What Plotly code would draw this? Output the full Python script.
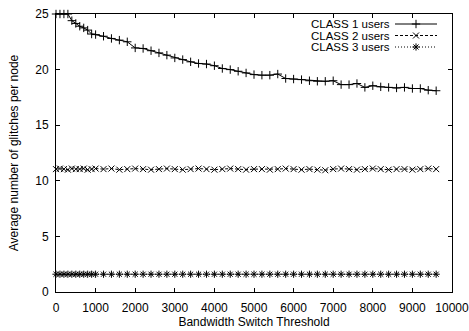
import plotly.graph_objects as go

# Bandwidth switch thresholds (fine steps up to 1000, then every 200)
thresholds = list(range(0, 1001, 100)) + list(range(1200, 9601, 200))

class1 = [25.0, 25.0, 25.0, 25.0, 24.4, 24.15, 23.9, 23.75, 23.55, 23.2, 23.15,
          23.0, 22.8, 22.65, 22.5, 21.95, 21.9, 21.7, 21.5, 21.3, 21.05,
          20.9, 20.7, 20.55, 20.5, 20.35, 20.1, 20.0, 19.85, 19.7, 19.55,
          19.5, 19.5, 19.6, 19.2, 19.15, 19.1, 19.0, 18.95, 18.95, 19.0,
          18.65, 18.65, 18.75, 18.4, 18.55, 18.45, 18.4, 18.35, 18.4, 18.3,
          18.3, 18.15, 18.1]

class2 = [11.05, 11.1, 11.05, 11.0, 11.1, 11.05, 11.05, 11.1, 11.0, 11.05, 11.1,
          11.05, 11.1, 11.0, 11.05, 11.1, 11.05, 11.0, 11.05, 11.1, 11.05,
          11.0, 11.05, 11.1, 11.05, 11.0, 11.05, 11.1, 11.05, 11.0, 11.05,
          11.05, 11.0, 11.05, 11.1, 11.05, 11.0, 11.05, 11.0, 10.95, 11.05,
          11.1, 11.05, 11.0, 11.05, 11.1, 11.05, 11.0, 11.05, 11.05, 11.0,
          11.05, 11.1, 11.05]

class3 = [1.6] * len(thresholds)

series_names = ["CLASS 1 users", "CLASS 2 users", "CLASS 3 users"]
series_values = [class1, class2, class3]
series_symbols = ["cross-thin-open", "x-thin-open", "asterisk-open"]
series_dash = ["solid", "3px,2px", "1px,2px"]

x_ticks = list(range(0, 10001, 1000))
x_ticktext = [str(v) for v in x_ticks]
y_ticks = list(range(0, 26, 5))

FONT = "Liberation Sans, Arial, Helvetica, sans-serif"
MARKER_SIZE = 6

fig = go.Figure()

for name, vals, sym, dash in zip(series_names, series_values, series_symbols, series_dash):
    fig.add_trace(go.Scatter(
        x=thresholds, y=vals, name=name, mode="lines+markers",
        line=dict(color="black", width=1, dash=dash),
        marker=dict(symbol=sym, size=MARKER_SIZE, color="black",
                    line=dict(width=1, color="black")),
        cliponaxis=False, showlegend=False,
    ))

# Key drawn on an overlay axis measured in page pixels, text first then sample
key_rows = [24.0, 35.5, 47.0]
key_text_right = 391
key_line = (395, 437)
key_mark = 416
for name, sym, dash, ky in zip(series_names, series_symbols, series_dash, key_rows):
    fig.add_trace(go.Scatter(
        x=[key_line[0], key_line[1]], y=[ky, ky], xaxis="x2", yaxis="y2",
        mode="lines", line=dict(color="black", width=1, dash=dash),
        showlegend=False, hoverinfo="skip",
    ))
    fig.add_trace(go.Scatter(
        x=[key_mark], y=[ky], xaxis="x2", yaxis="y2", mode="markers",
        marker=dict(symbol=sym, size=MARKER_SIZE, color="black",
                    line=dict(width=1, color="black")),
        showlegend=False, hoverinfo="skip",
    ))
    fig.add_annotation(
        x=key_text_right, y=ky, xref="x2", yref="y2", text=name,
        showarrow=False, xanchor="right", yanchor="middle", borderpad=0,
        font=dict(family=FONT, size=11.5, color="black"),
    )

axis_common = dict(
    showgrid=False, zeroline=False, showline=True, linecolor="black", linewidth=1,
    mirror="ticks", ticks="inside", ticklen=4, tickcolor="black", tickwidth=1,
    tickfont=dict(family=FONT, size=12, color="black"),
    automargin=False, ticklabeloverflow="allow",
)

fig.update_layout(
    width=469, height=331,
    margin=dict(l=56, r=17, t=14, b=39),
    paper_bgcolor="white", plot_bgcolor="white",
    font=dict(family=FONT, size=12, color="black"),
    xaxis=dict(range=[0, 10000], tickvals=x_ticks, ticktext=x_ticktext,
               ticklabelstandoff=5,
               title=dict(text="Bandwidth Switch Threshold", standoff=3,
                          font=dict(family=FONT, size=12)),
               **axis_common),
    yaxis=dict(range=[0, 25], tickvals=y_ticks, ticklabelstandoff=4,
               title=dict(text="Average number of glitches per node", standoff=14,
                          font=dict(family=FONT, size=12)),
               **axis_common),
    xaxis2=dict(range=[56, 452], overlaying="x", visible=False, fixedrange=True),
    yaxis2=dict(range=[292, 14], overlaying="y", visible=False, fixedrange=True),
    showlegend=False,
)

fig.write_html("out.html")
